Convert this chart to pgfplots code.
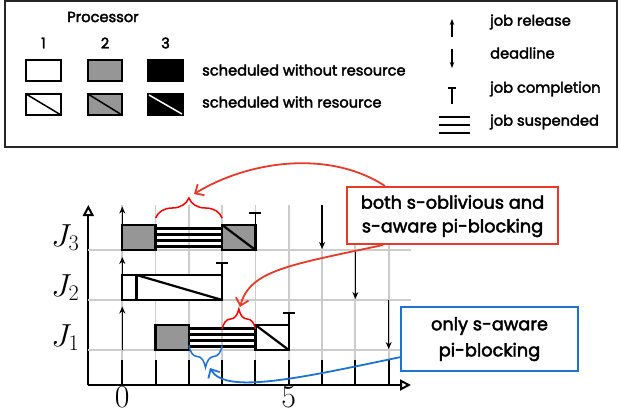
\RequirePackage{fix-cm}
\documentclass[border=0pt]{standalone}
\usepackage{fontspec}
\setmainfont{Poppins}[UprightFeatures={FakeBold=2.5}]
\usepackage{pgfplots}
\pgfplotsset{compat=1.18}
\usetikzlibrary{arrows.meta,decorations.pathreplacing}
\definecolor{boxgray}{RGB}{150,150,150}
\definecolor{gridgray}{RGB}{204,204,204}
\definecolor{callred}{RGB}{232,58,40}
\definecolor{callblue}{RGB}{30,115,210}
\definecolor{bracered}{RGB}{255,0,0}
\begin{document}
\begin{tikzpicture}
\useasboundingbox (0,0) rectangle (621bp,417bp);
\begin{axis}[
  at={(88.3bp,32bp)}, anchor=south west,
  scale only axis, width=322.7bp, height=180bp,
  xmin=-1.02, xmax=8.67, ymin=0, ymax=3.6,
  axis lines=left,
  axis line style={line width=2bp, black, -{Triangle[open,length=11bp,width=11bp]}},
  xtick={0,5}, minor xtick={1,2,3,4,6,7,8},
  xtick align=inside, major tick length=25bp, minor tick length=25bp,
  x tick style={line width=2bp, black},
  xmajorgrids, xminorgrids,
  major grid style={gridgray, line width=1.8bp},
  minor grid style={gridgray, line width=1.8bp},
  ytick={0.95,1.95,2.95}, yticklabels={$J_1$,$J_2$,$J_3$},
  y tick style={draw=none},
  extra y ticks={0.7,1.7,2.7}, extra y tick labels={},
  extra y tick style={grid=major, y tick style={draw=none}},
  tick label style={font=\fontsize{32}{33}\selectfont},
  yticklabel style={xshift=7bp},
  xticklabel style={yshift=2bp},
  clip=false,
]
% ---- J3 ----
\addplot[line width=2.4bp] coordinates {(1,2.77) (3,2.77)};
\addplot[line width=2.4bp] coordinates {(1,2.89) (3,2.89)};
\addplot[line width=2.4bp] coordinates {(1,3.01) (3,3.01)};
\addplot[line width=2.4bp] coordinates {(1,3.13) (3,3.13)};
\addplot[fill=boxgray, draw=black, line width=2.2bp] coordinates {(0,2.7) (1,2.7) (1,3.2) (0,3.2)} -- cycle;
\addplot[fill=boxgray, draw=black, line width=2.2bp] coordinates {(3,2.7) (4,2.7) (4,3.2) (3,3.2)} -- cycle;
\addplot[line width=2.2bp] coordinates {(3,3.2) (4,2.7)};
\addplot[line width=1.5bp] coordinates {(4,3.2) (4,3.44)};
\addplot[line width=1.5bp] coordinates {(3.82,3.44) (4.18,3.44)};
\addplot[line width=1.5bp, -{Stealth[length=7bp,width=6bp]}] coordinates {(0,3.2) (0,3.57)};
\addplot[line width=1.5bp, -{Stealth[length=7bp,width=6bp]}] coordinates {(6,3.6) (6,2.72)};
% ---- J2 ----
\addplot[fill=white, draw=black, line width=2.2bp] coordinates {(0,1.7) (3,1.7) (3,2.2) (0,2.2)} -- cycle;
\addplot[line width=2.2bp] coordinates {(0.43,1.7) (0.43,2.2)};
\addplot[line width=2.2bp] coordinates {(0.43,2.2) (3,1.7)};
\addplot[line width=1.5bp] coordinates {(3,2.2) (3,2.44)};
\addplot[line width=1.5bp] coordinates {(2.82,2.44) (3.18,2.44)};
\addplot[line width=1.5bp, -{Stealth[length=7bp,width=6bp]}] coordinates {(0,2.2) (0,2.56)};
\addplot[line width=1.5bp, -{Stealth[length=7bp,width=6bp]}] coordinates {(7,2.7) (7,1.72)};
% ---- J1 ----
\addplot[line width=2.4bp] coordinates {(2,0.77) (4,0.77)};
\addplot[line width=2.4bp] coordinates {(2,0.89) (4,0.89)};
\addplot[line width=2.4bp] coordinates {(2,1.01) (4,1.01)};
\addplot[line width=2.4bp] coordinates {(2,1.13) (4,1.13)};
\addplot[fill=boxgray, draw=black, line width=2.2bp] coordinates {(1,0.7) (2,0.7) (2,1.2) (1,1.2)} -- cycle;
\addplot[fill=white, draw=black, line width=2.2bp] coordinates {(4,0.7) (5,0.7) (5,1.2) (4,1.2)} -- cycle;
\addplot[line width=2.2bp] coordinates {(4,1.2) (5,0.7)};
\addplot[line width=1.5bp] coordinates {(5,1.2) (5,1.44)};
\addplot[line width=1.5bp] coordinates {(4.82,1.44) (5.18,1.44)};
\addplot[line width=1.5bp, -{Stealth[length=7bp,width=6bp]}] coordinates {(0,0.7) (0,1.57)};
\addplot[line width=1.5bp, -{Stealth[length=7bp,width=6bp]}] coordinates {(8,1.7) (8,0.72)};
% ---- braces ----
\draw[bracered, line width=1.5bp, decorate, decoration={brace, amplitude=20bp}] (axis cs:1,3.34) -- (axis cs:3,3.34);
\draw[bracered, line width=1.5bp, decorate, decoration={brace, amplitude=20bp}] (axis cs:3,1.12) -- (axis cs:4,1.12);
\draw[callblue, line width=1.5bp, decorate, decoration={brace, amplitude=22bp}] (axis cs:3,0.79) -- (axis cs:2,0.79);
\end{axis}
\begin{scope}[x=1bp, y=-1bp, shift={(0bp,417bp)}]
% legend frame
\draw[line width=1.8bp, black!85] (5,1) rectangle (617,147);
\node[font=\fontsize{14.7}{15}\selectfont] at (103,17) {Processor};
\node[font=\fontsize{14.7}{15}\selectfont] at (43.5,43) {1};
\node[font=\fontsize{14.7}{15}\selectfont] at (105,43) {2};
\node[font=\fontsize{14.7}{15}\selectfont] at (165.5,43) {3};
\draw[line width=1.5bp, fill=white] (26,60) rectangle (61,81);
\draw[line width=1.5bp, fill=boxgray] (88,60) rectangle (122,81);
\draw[line width=1.5bp, fill=black] (148,60) rectangle (183,81);
\draw[line width=1.5bp, fill=white] (26,94) rectangle (61,115);
\draw[line width=1.5bp] (26,94) -- (61,115);
\draw[line width=1.5bp, fill=boxgray] (88,94) rectangle (122,115);
\draw[line width=1.5bp] (88,94) -- (122,115);
\draw[line width=1.5bp, fill=black] (148,94) rectangle (183,115);
\draw[line width=1.5bp, white] (149,95) -- (182,114);
\node[font=\fontsize{14.7}{15}\selectfont, anchor=west, inner sep=0] at (202,70) {scheduled without resource};
\node[font=\fontsize{14.7}{15}\selectfont, anchor=west, inner sep=0] at (202,102) {scheduled with resource};
\draw[line width=1.2bp, -{Stealth[length=6bp,width=4.5bp]}] (452,37) -- (452,19);
\draw[line width=1.2bp, -{Stealth[length=6bp,width=4.5bp]}] (452,49) -- (452,68);
\draw[line width=1.2bp] (452,104) -- (452,88) (448,88) -- (456,88);
\draw[line width=2.2bp] (439,117) -- (470,117) (439,125) -- (470,125) (439,133) -- (470,133);
\node[font=\fontsize{14.7}{15}\selectfont, anchor=west, inner sep=0] at (490,22) {job release};
\node[font=\fontsize{14.7}{15}\selectfont, anchor=west, inner sep=0] at (490,53) {deadline};
\node[font=\fontsize{14.7}{15}\selectfont, anchor=west, inner sep=0] at (490,89) {job completion};
\node[font=\fontsize{14.7}{15}\selectfont, anchor=west, inner sep=0] at (490,122) {job suspended};
% callouts
\draw[callred, line width=2bp, fill=white] (347,187) rectangle (558,244);
\node[font=\fontsize{17.8}{18}\selectfont] at (452.5,202) {both s-oblivious and};
\node[font=\fontsize{17.8}{18}\selectfont] at (452.5,228) {s-aware pi-blocking};
\draw[callblue, line width=2bp, fill=white] (401,307) rectangle (578,371);
\node[font=\fontsize{17.8}{18}\selectfont] at (489.5,326) {only s-aware};
\node[font=\fontsize{17.8}{18}\selectfont] at (489.5,352) {pi-blocking};
\draw[callred, line width=1.8bp, -{Straight Barb[length=7bp,width=13bp]}] (385,186) .. controls (330,150) and (250,160) .. (194,194);
\draw[callred, line width=1.8bp, -{Straight Barb[length=7bp,width=13bp]}] (383,245) .. controls (290,265) and (250,270) .. (240,307);
\draw[callblue, line width=1.8bp, -{Straight Barb[length=7bp,width=13bp]}] (401,357) .. controls (300,378) and (225,395) .. (210,368);
\end{scope}
\end{tikzpicture}
\end{document}
